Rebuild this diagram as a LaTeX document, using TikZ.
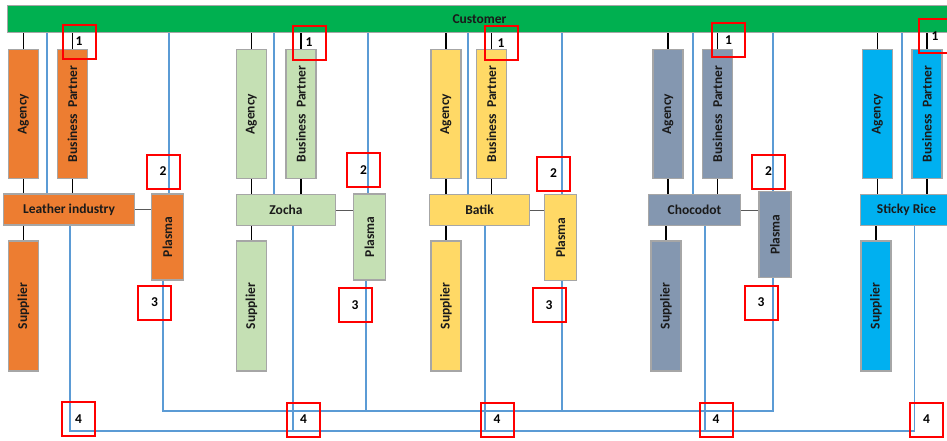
\documentclass[tikz,border=0pt]{standalone}
\usepackage{fontspec}
\usepackage{graphicx}
\setmainfont{Carlito}
\definecolor{custgreen}{HTML}{00B050}
\definecolor{corange}{HTML}{ED7D31}
\definecolor{cgreen}{HTML}{C5E0B4}
\definecolor{cyellow}{HTML}{FFD966}
\definecolor{cslate}{HTML}{8497B0}
\definecolor{ccyan}{HTML}{00B0F0}
\definecolor{bordergray}{HTML}{A6A6A6}
\definecolor{lineblue}{HTML}{5B9BD5}
\definecolor{txt}{HTML}{1A1A1A}
\tikzset{
  box/.style={draw=bordergray, line width=1.8pt, inner sep=0pt, text=txt,
    font=\fontsize{13.5}{15}\selectfont\bfseries},
  vbox/.style={box, minimum width=30pt, minimum height=129pt},
  mainbox/.style={box, minimum height=31pt},
  plbox/.style={box, minimum width=32pt, minimum height=86pt},
  supbox/.style={box, minimum width=30pt, minimum height=130pt},
  redbox/.style={draw=red, line width=2pt, inner sep=0pt, minimum width=33pt,
    minimum height=34pt, text=black, font=\fontsize{13.5}{15}\selectfont\bfseries},
  blk/.style={draw=black, line width=1.6pt},
  gry/.style={draw=black!65, line width=0.9pt},
  bl/.style={draw=lineblue, line width=1.2pt}
}
\begin{document}
\begin{tikzpicture}[x=1pt,y=-1pt]
\useasboundingbox (0,0) rectangle (947,440);
% customer
\node[box, fill=custgreen, minimum width=944pt, minimum height=27pt] (cust) at (479.5,19) {Customer};
% group 1
\node[vbox, fill=corange] (ag1) at (23.5,114) {\rotatebox{90}{Agency}};
\node[vbox, fill=corange] (bp1) at (72.5,114) {\rotatebox{90}{Business\ \ Partner}};
\node[mainbox, fill=corange, minimum width=131pt] (li1) at (69,209.5) {Leather industry};
\node[plbox, fill=corange] (pl1) at (167.5,237) {\rotatebox{90}{Plasma}};
\node[supbox, fill=corange] (su1) at (23.5,306) {\rotatebox{90}{Supplier}};
% group 2
\node[vbox, fill=cgreen] (ag2) at (251.5,114) {\rotatebox{90}{Agency}};
\node[vbox, fill=cgreen] (bp2) at (301,114) {\rotatebox{90}{Business\ \ Partner}};
\node[mainbox, fill=cgreen, minimum width=99pt] (zo2) at (286,210) {Zocha};
\node[plbox, fill=cgreen] (pl2) at (369.5,237) {\rotatebox{90}{Plasma}};
\node[supbox, fill=cgreen] (su2) at (251.5,306) {\rotatebox{90}{Supplier}};
% group 3
\node[vbox, fill=cyellow] (ag3) at (446,114) {\rotatebox{90}{Agency}};
\node[vbox, fill=cyellow] (bp3) at (491.5,114) {\rotatebox{90}{Business\ \ Partner}};
\node[mainbox, fill=cyellow, minimum width=100pt] (ba3) at (479.5,210) {Batik};
\node[plbox, fill=cyellow] (pl3) at (560.5,237.5) {\rotatebox{90}{Plasma}};
\node[supbox, fill=cyellow] (su3) at (446,306) {\rotatebox{90}{Supplier}};
% group 4
\node[vbox, fill=cslate] (ag4) at (668,114) {\rotatebox{90}{Agency}};
\node[vbox, fill=cslate] (bp4) at (717.5,114) {\rotatebox{90}{Business\ \ Partner}};
\node[mainbox, fill=cslate, minimum width=92pt] (ch4) at (694.5,210) {Chocodot};
\node[plbox, fill=cslate] (pl4) at (775,234.5) {\rotatebox{90}{Plasma}};
\node[supbox, fill=cslate] (su4) at (666,306) {\rotatebox{90}{Supplier}};
% group 5
\node[vbox, fill=ccyan] (ag5) at (877.5,114) {\rotatebox{90}{Agency}};
\node[vbox, fill=ccyan] (bp5) at (927,114) {\rotatebox{90}{Business\ \ Partner}};
\node[mainbox, fill=ccyan, minimum width=92pt] (sr5) at (906.5,210) {Sticky Rice};
\node[supbox, fill=ccyan] (su5) at (876,306) {\rotatebox{90}{Supplier}};
% black connectors
\foreach \a/\m/\s in {1/li1/su1, 2/zo2/su2, 3/ba3/su3, 4/ch4/su4, 5/sr5/su5}{
  \draw[blk] (cust.south -| ag\a) -- (ag\a.north);
  \draw[blk] (cust.south -| bp\a) -- (bp\a.north);
  \draw[blk] (ag\a.south) -- (ag\a.south |- \m.north);
  \draw[blk] (bp\a.south) -- (bp\a.south |- \m.north);
  \draw[blk] (\m.south -| \s) -- (\s.north);
}
\draw[gry] (li1.east) -- (li1.east -| pl1.west);
\draw[gry] (zo2.east) -- (zo2.east -| pl2.west);
\draw[gry] (ba3.east) -- (ba3.east -| pl3.west);
\draw[gry] (ch4.east) -- (ch4.east -| pl4.west);
% blue connector positions
\coordinate (pbus) at (0,411);
\coordinate (lbus) at (0,431);
\coordinate (m1) at (47,0);   \coordinate (t1) at (169,0);  \coordinate (q1) at (163,0);  \coordinate (d1) at (70,0);
\coordinate (m2) at (274,0);  \coordinate (t2) at (368,0);  \coordinate (q2) at (366,0);  \coordinate (d2) at (293,0);
\coordinate (m3) at (468,0);  \coordinate (t3) at (562,0);  \coordinate (q3) at (562,0);  \coordinate (d3) at (485,0);
\coordinate (m4) at (693,0);  \coordinate (t4) at (773,0);  \coordinate (q4) at (773,0);  \coordinate (d4) at (705,0);
\coordinate (m5) at (902,0);  \coordinate (d5) at (914.5,0);
% customer to main boxes
\draw[bl] (cust.south -| m1) -- (li1.north -| m1);
\draw[bl] (cust.south -| m2) -- (zo2.north -| m2);
\draw[bl] (cust.south -| m3) -- (ba3.north -| m3);
\draw[bl] (cust.south -| m4) -- (ch4.north -| m4);
\draw[bl] (cust.south -| m5) -- (sr5.north -| m5);
% customer to plasma
\draw[bl] (cust.south -| t1) -- (pl1.north -| t1);
\draw[bl] (cust.south -| t2) -- (pl2.north -| t2);
\draw[bl] (cust.south -| t3) -- (pl3.north -| t3);
\draw[bl] (cust.south -| t4) -- (pl4.north -| t4);
% plasma bus
\draw[bl] (pl1.south -| q1) -- (pbus -| q1) -- (pbus -| q4) -- (pl4.south -| q4);
\draw[bl] (pl2.south -| q2) -- (pbus -| q2);
\draw[bl] (pl3.south -| q3) -- (pbus -| q3);
% main bus
\draw[bl] (li1.south -| d1) -- (lbus -| d1) -- (lbus -| d5) -- (sr5.south -| d5);
\draw[bl] (zo2.south -| d2) -- (lbus -| d2);
\draw[bl] (ba3.south -| d3) -- (lbus -| d3);
\draw[bl] (ch4.south -| d4) -- (lbus -| d4);
% red markers
\node[redbox] (r1a) at (79,41.5) {1};
\node[redbox] (r1b) at (163,171.5) {2};
\node[redbox] (r1c) at (154.5,302.5) {3};
\node[redbox] (r1d) at (78.5,419) {4};
\node[redbox] (r2a) at (309,42.5) {1};
\node[redbox] (r2b) at (363.5,170) {2};
\node[redbox] (r2c) at (355,305) {3};
\node[redbox] (r2d) at (303.5,419.5) {4};
\node[redbox] (r3a) at (501,43) {1};
\node[redbox] (r3b) at (553.5,173.5) {2};
\node[redbox] (r3c) at (549,305) {3};
\node[redbox] (r3d) at (497,419.5) {4};
\node[redbox] (r4a) at (728.5,40) {1};
\node[redbox] (r4b) at (768.5,171.5) {2};
\node[redbox] (r4c) at (761,302.5) {3};
\node[redbox] (r4d) at (716,419.5) {4};
\node[redbox] (r5a) at (935,36) {1};
\node[redbox] (r5d) at (926.5,419.5) {4};
\end{tikzpicture}
\end{document}
